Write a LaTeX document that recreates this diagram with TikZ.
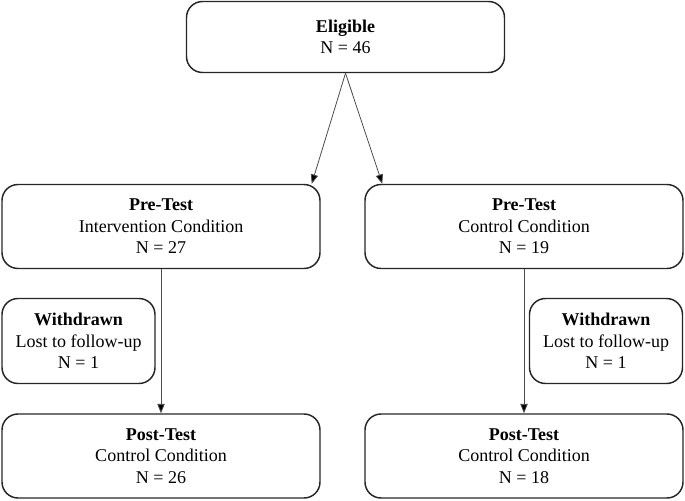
\documentclass[tikz,border=0pt]{standalone}
\usepackage{fontspec}
\setmainfont{Liberation Serif}
\usetikzlibrary{arrows.meta,calc}
\begin{document}
\begin{tikzpicture}[x=0.75pt,y=-0.75pt,
  box/.style={draw=black!85,line width=1.1pt,rounded corners=12pt,align=center,inner sep=0pt,
    font=\fontsize{13.5}{16.2}\selectfont},
  conn/.style={draw=black!70,line width=0.6pt,-{Triangle[length=7pt,width=5.5pt,fill=black]}}]
\useasboundingbox (0,0) rectangle (685,500);
\node[box,minimum width=318*0.75pt,minimum height=71*0.75pt] (elig) at (345.5,37) {\textbf{Eligible}\\N = 46};
\node[box,minimum width=318*0.75pt,minimum height=84*0.75pt] (preL) at (161,226.5) {\textbf{Pre-Test}\\Intervention Condition\\N = 27};
\node[box,minimum width=318*0.75pt,minimum height=84*0.75pt] (preR) at (524,226.5) {\textbf{Pre-Test}\\Control Condition\\N = 19};
\node[box,minimum width=153*0.75pt,minimum height=85*0.75pt] (wdL) at (78.5,341) {\textbf{Withdrawn}\\Lost to follow-up\\N = 1};
\node[box,minimum width=153*0.75pt,minimum height=85*0.75pt] (wdR) at (606,341) {\textbf{Withdrawn}\\Lost to follow-up\\N = 1};
\node[box,minimum width=318*0.75pt,minimum height=84*0.75pt] (postL) at (161,456) {\textbf{Post-Test}\\Control Condition\\N = 26};
\node[box,minimum width=318*0.75pt,minimum height=84*0.75pt] (postR) at (524,456) {\textbf{Post-Test}\\Control Condition\\N = 18};
\draw[conn] (elig.south) -- ($(preL.north east)+(-9,0)$);
\draw[conn] (elig.south) -- ($(preR.north west)+(18,0)$);
\draw[conn] (preL.south) -- (postL.north);
\draw[conn] (preR.south) -- (postR.north);
\end{tikzpicture}
\end{document}
